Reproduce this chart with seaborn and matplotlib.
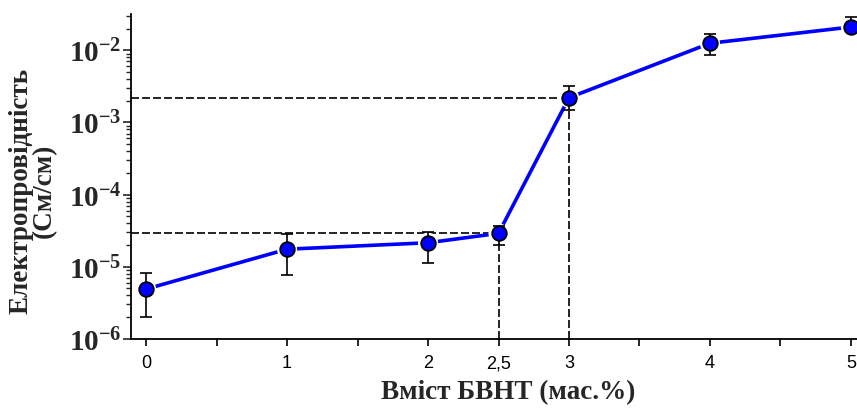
import numpy as np
import pandas as pd
import matplotlib
matplotlib.use("Agg")
import matplotlib.pyplot as plt
import seaborn as sns
from matplotlib.ticker import FixedLocator, FixedFormatter, LogLocator, NullFormatter

# ---- data ----
content = [0, 1, 2, 2.5, 3, 4, 5]                       # wt.% MWCNT
conductivity = [4.9e-6, 1.75e-5, 2.15e-5, 2.9e-5, 2.2e-3, 1.25e-2, 2.1e-2]
err_low = [2.0e-6, 7.6e-6, 1.13e-5, 2.0e-5, 1.5e-3, 8.7e-3, 1.85e-2]
err_high = [8.3e-6, 2.8e-5, 3.0e-5, 3.7e-5, 3.2e-3, 1.7e-2, 2.85e-2]
xtick_vals = [0, 1, 2, 2.5, 3, 4, 5]
xtick_labels = ["0", "1", "2", "2,5", "3", "4", "5"]
xminor_vals = [0.5, 1.5, 3.5, 4.5]
ytick_exps = [-6, -5, -4, -3, -2]
marked_x = [2.5, 3]
xlabel = "Вміст БВНТ (мас.%)"
ylabel = "Електропровідність\n(См/см)"

sns.set_style("ticks")
plt.rcParams["font.family"] = ["Liberation Serif", "DejaVu Serif"]
plt.rcParams["mathtext.fontset"] = "custom"
plt.rcParams["mathtext.bf"] = "Liberation Serif:bold"
plt.rcParams["mathtext.rm"] = "Liberation Serif"

fig = plt.figure(figsize=(8.57, 4.10), dpi=100)
ax = fig.add_axes([0.153, 0.171, 0.847, 0.792])
ax.set_yscale("log")
xlim = (-0.106, 5.043)
ylim = (1e-6, 10 ** -1.5)

df = pd.DataFrame({"x": content, "y": conductivity})
sns.lineplot(data=df, x="x", y="y", ax=ax, color="#0000ff", lw=2.6, zorder=2)
sns.scatterplot(data=df, x="x", y="y", ax=ax, s=14.5 ** 2, color="white",
                edgecolor="none", linewidth=0, zorder=3)
lower = np.array(conductivity) - np.array(err_low)
upper = np.array(err_high) - np.array(conductivity)
ax.errorbar(content, conductivity, yerr=[lower, upper], fmt="none",
            ecolor="black", elinewidth=1.2, capsize=4.3, capthick=1.2, zorder=4)
sns.scatterplot(data=df, x="x", y="y", ax=ax, s=10.5 ** 2, color="#0000ff",
                edgecolor="black", linewidth=1.3, zorder=5)

for xm in marked_x:
    yv = conductivity[content.index(xm)]
    ax.plot([xlim[0], xm], [yv, yv], color="black", lw=1.2, ls=(0, (4.8, 1.8)), zorder=1.5)
    ax.plot([xm, xm], [ylim[0], yv], color="black", lw=1.2, ls=(0, (4.8, 1.8)), zorder=1.5)

ax.set_xlim(*xlim)
ax.set_ylim(*ylim)

ax.xaxis.set_major_locator(FixedLocator(xtick_vals))
ax.xaxis.set_major_formatter(FixedFormatter(xtick_labels))
ax.xaxis.set_minor_locator(FixedLocator(xminor_vals))
ax.yaxis.set_major_locator(FixedLocator([10.0 ** e for e in ytick_exps]))
ax.yaxis.set_major_formatter(FixedFormatter([r"$\mathbf{10^{%d}}$" % e for e in ytick_exps]))
ax.yaxis.set_minor_locator(LogLocator(base=10, subs=np.arange(2, 10)))
ax.yaxis.set_minor_formatter(NullFormatter())

for lab in ax.get_xticklabels():
    lab.set_family(["Liberation Sans Narrow", "Liberation Sans", "DejaVu Sans"])
    lab.set_fontsize(13)

ax.tick_params(axis="x", which="both", direction="out", length=5, width=1.2, pad=6, colors="black")
ax.tick_params(axis="y", which="major", direction="out", length=6, width=1.2, pad=1, labelsize=21)
ax.tick_params(axis="y", which="minor", direction="out", length=3.5, width=1.0)

for side in ("top", "right"):
    ax.spines[side].set_visible(False)
for side in ("left", "bottom"):
    ax.spines[side].set_linewidth(1.3)
    ax.spines[side].set_color("black")

ax.set_xlabel(xlabel, fontsize=19.5, fontweight="bold")
ax.xaxis.set_label_coords(0.519, -0.125)
ax.set_ylabel(ylabel, fontsize=19.5, fontweight="bold", linespacing=0.92)
ax.yaxis.set_label_coords(-0.102, 0.46)

fig.savefig("out.png", dpi=100)
